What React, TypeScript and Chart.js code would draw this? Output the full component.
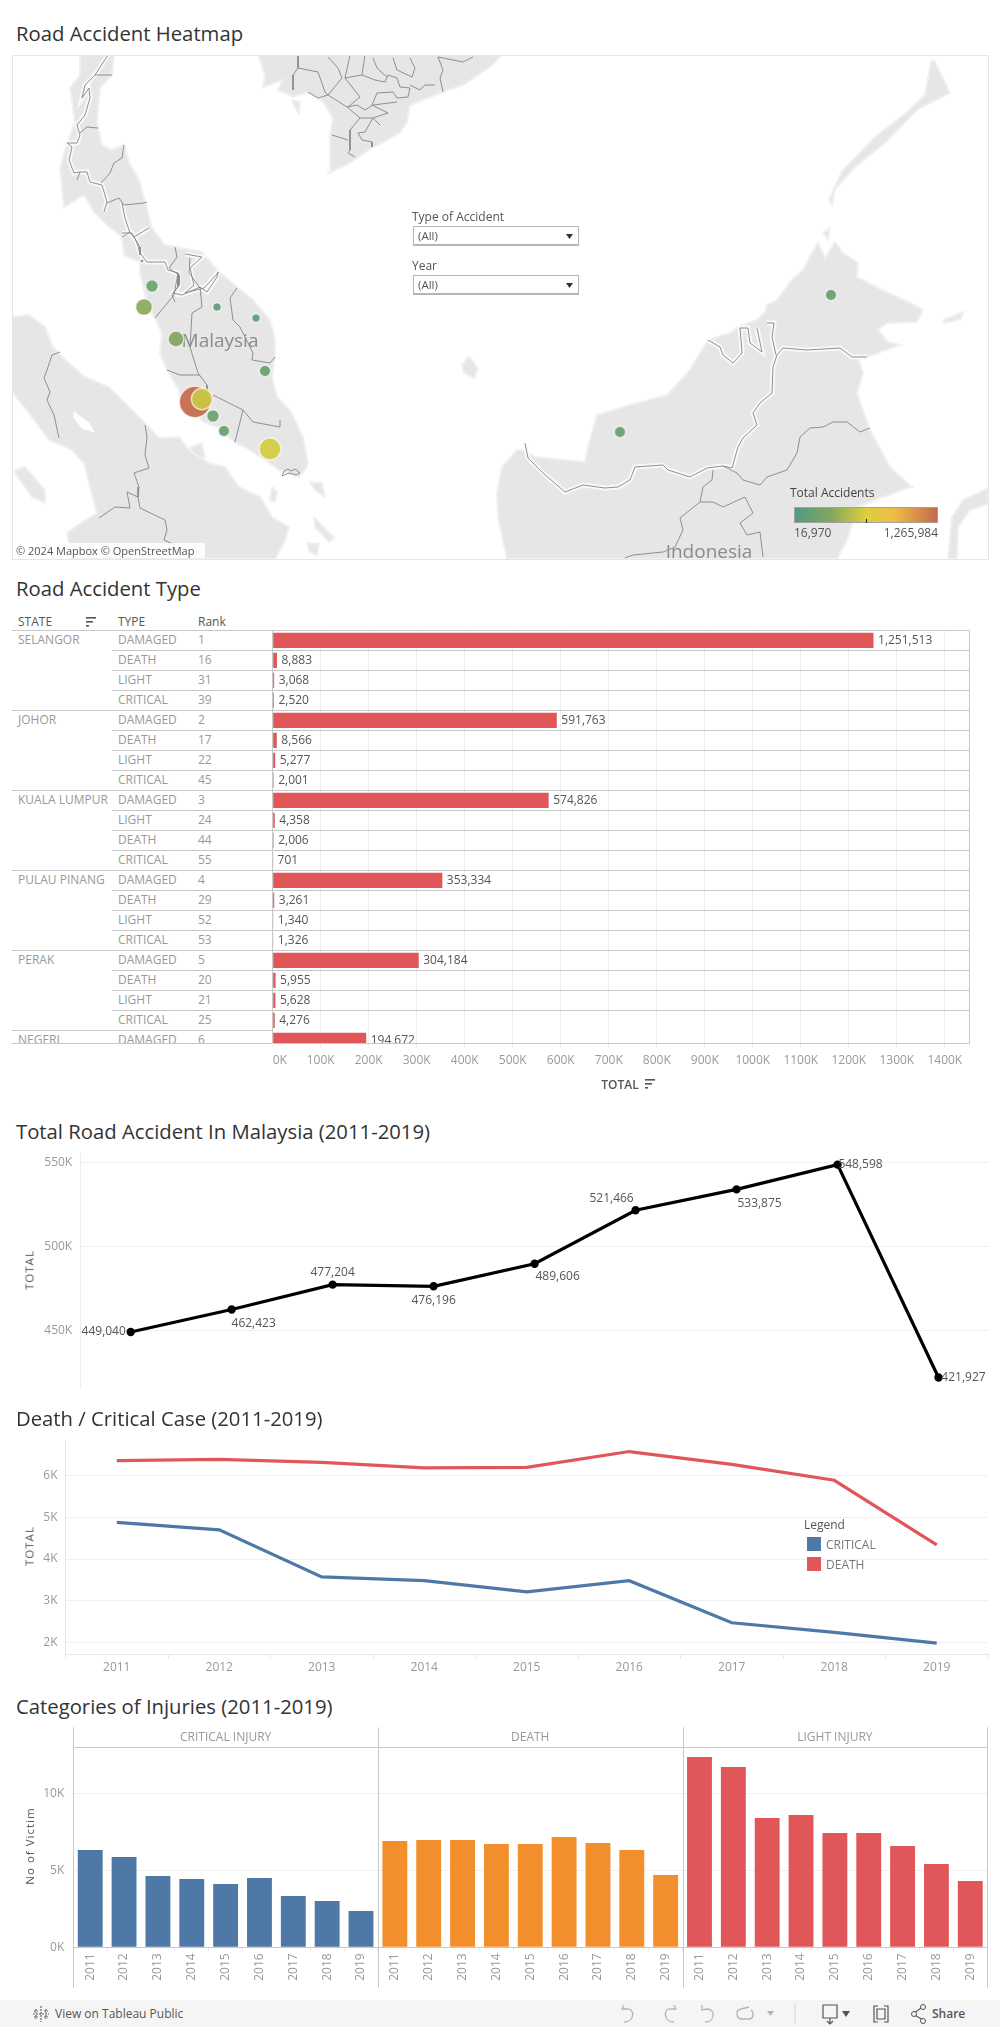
import React, { useEffect, useRef } from "react";
import { Chart, registerables } from "chart.js";

Chart.register(...registerables);

const FONT = '"Open Sans", sans-serif';
const GRID = "#f0f0f0";
const RULE = "#c8c8c8";
const RED = "#E15759";
const BLUE = "#4E79A7";
const ORANGE = "#F28E2B";

// ---------- table of accident types ----------
const rowStates = ["SELANGOR", "", "", "", "JOHOR", "", "", "", "KUALA LUMPUR", "", "", "", "PULAU PINANG", "", "", "", "PERAK", "", "", "", "NEGERI"];
const rowTypes = ["DAMAGED", "DEATH", "LIGHT", "CRITICAL", "DAMAGED", "DEATH", "LIGHT", "CRITICAL", "DAMAGED", "LIGHT", "DEATH", "CRITICAL", "DAMAGED", "DEATH", "LIGHT", "CRITICAL", "DAMAGED", "DEATH", "LIGHT", "CRITICAL", "DAMAGED"];
const rowRanks = [1, 16, 31, 39, 2, 17, 22, 45, 3, 24, 44, 55, 4, 29, 52, 53, 5, 20, 21, 25, 6];
const rowTotals = [1251513, 8883, 3068, 2520, 591763, 8566, 5277, 2001, 574826, 4358, 2006, 701, 353334, 3261, 1340, 1326, 304184, 5955, 5628, 4276, 194672];
const rowAxisTicks = [0, 100000, 200000, 300000, 400000, 500000, 600000, 700000, 800000, 900000, 1000000, 1100000, 1200000, 1300000, 1400000];

// ---------- yearly series ----------
const years = ["2011", "2012", "2013", "2014", "2015", "2016", "2017", "2018", "2019"];
const yearTotals = [449040, 462423, 477204, 476196, 489606, 521466, 533875, 548598, 421927];
const yearTotalTicks = [450000, 500000, 550000];
const deathCases = [6360, 6390, 6320, 6190, 6200, 6580, 6270, 5890, 4340];
const criticalCases = [4880, 4700, 3570, 3480, 3210, 3480, 2470, 2240, 1980];
const caseTicks = [2000, 3000, 4000, 5000, 6000];

// ---------- categories of injuries ----------
const panelNames = ["CRITICAL INJURY", "DEATH", "LIGHT INJURY"];
const victimsCritical = [6330, 5880, 4640, 4450, 4120, 4510, 3340, 3020, 2360];
const victimsDeath = [6920, 6980, 6980, 6720, 6720, 7180, 6790, 6330, 4710];
const victimsLight = [12390, 11730, 8420, 8610, 7440, 7440, 6590, 5420, 4320];
const victimTicks = [0, 5000, 10000];

// ---------- heat map: totals per state, on a projected map grid (east, north) ----------
const mapStates = ["Perlis", "Kedah", "Pulau Pinang", "Kelantan", "Terengganu", "Perak", "Pahang", "Selangor", "Kuala Lumpur", "Negeri Sembilan", "Melaka", "Johor", "Sarawak", "Sabah"];
const mapTotals = [16970, 203000, 359261, 95000, 95000, 320043, 167000, 1265984, 581891, 203000, 167000, 607607, 167000, 167000];
const mapEast = [130, 140, 132, 205, 244, 164, 253, 183, 190, 201, 212, 258, 608, 819];
const mapNorth = [298, 273, 252, 252, 241, 220, 188, 157, 160, 143, 128, 110, 127, 264];
const placeNames = ["Malaysia", "Indonesia"];
const placeEast = [208, 697];
const placeNorth = [217, 6];

type P = number[][];
const landMainland: P = [[68,504],[102,504],[100,484],[88,471],[85,437],[90,414],[100,409],[112,414],[117,397],[128,377],[133,357],[140,331],[153,314],[190,307],[207,287],[225,272],[241,259],[258,239],[263,219],[263,202],[260,182],[265,162],[278,149],[291,122],[296,96],[295,92],[287,82],[267,89],[253,99],[233,112],[222,117],[207,131],[192,137],[180,146],[168,156],[167,169],[155,189],[148,206],[150,226],[143,241],[136,252],[128,287],[128,297],[112,304],[110,322],[95,334],[82,347],[72,364],[52,352],[48,391],[55,416],[63,437],[58,471],[68,484]];
const landIndochina: P = [[246,504],[253,484],[251,472],[271,479],[266,469],[281,462],[296,467],[311,457],[321,441],[318,424],[318,387],[315,385],[338,396],[360,411],[388,426],[395,437],[398,454],[411,459],[431,467],[451,474],[478,492],[490,504]];
const landPhuQuoc: P = [[280,459],[288,457],[287,446],[283,451]];
const landSumatra: P = [[0,242],[17,244],[33,232],[40,214],[50,202],[73,182],[97,172],[120,149],[133,136],[147,121],[167,122],[177,109],[197,96],[213,92],[227,72],[248,62],[260,42],[277,32],[272,16],[263,0],[60,0],[55,26],[63,32],[85,46],[78,72],[72,96],[60,109],[37,119],[17,146],[0,167]];
const landSiberut: P = [[3,89],[13,92],[33,69],[33,56],[20,62],[3,86]];
const landBintan: P = [[178,112],[190,116],[193,102],[182,99]];
const landRiau1: P = [[298,77],[310,76],[313,62],[303,69]];
const landRiau2: P = [[260,72],[265,67],[263,57],[258,59]];
const landRiau3: P = [[302,42],[322,21],[317,17],[303,32]];
const landRiau4: P = [[295,16],[307,15],[305,4],[297,8]];
const landBorneo: P = [[495,0],[486,42],[485,66],[490,92],[505,109],[513,109],[523,102],[573,97],[576,112],[585,144],[618,154],[655,164],[678,189],[696,219],[718,226],[728,233],[745,239],[753,247],[755,254],[765,259],[780,279],[791,289],[806,317],[813,301],[823,317],[831,306],[846,296],[845,282],[866,271],[898,256],[911,249],[905,237],[875,236],[866,229],[876,217],[888,214],[855,202],[845,204],[851,186],[845,166],[858,129],[878,92],[900,72],[898,72],[845,52],[835,19],[825,0]];
const landSulawesi: P = [[936,0],[940,42],[951,59],[976,71],[976,55],[958,49],[946,32],[945,0]];
const landPalawan: P = [[922,499],[938,466],[906,450],[874,417],[843,392],[823,370],[820,354],[817,359],[830,388],[862,421],[894,446],[913,464],[919,497]];
const landBalabac: P = [[811,326],[818,331],[816,320]];
const landSulu: P = [[931,239],[951,247],[949,240],[933,236]];
const landNatuna: P = [[457,203],[466,190],[462,181],[452,186],[450,194]];
const landShapes = [landMainland, landIndochina, landPhuQuoc, landSumatra, landSiberut, landBintan, landRiau1, landRiau2, landRiau3, landRiau4, landBorneo, landSulawesi, landPalawan, landBalabac, landSulu, landNatuna];
const lakeToba: P = [[62,147],[77,136],[82,127],[70,131],[62,141]];

const borderBorneo: P = [[513,116],[516,101],[531,86],[553,67],[571,74],[593,71],[606,72],[618,79],[623,92],[651,94],[656,89],[678,82],[695,91],[711,93],[720,91],[726,112],[731,121],[745,134],[741,146],[748,156],[760,166],[761,192],[765,204],[771,211],[795,209],[828,211],[840,202],[855,202]];
const borderBrunei: P = [[696,219],[708,212],[711,204],[721,196],[730,206],[728,231],[736,231],[738,216],[750,207],[745,231]];
const borderSabahTip: P = [[755,236],[762,236],[760,222],[764,204]];
const borderKaltim: P = [[711,93],[725,86],[731,79],[748,74],[755,82],[775,89],[785,106],[788,122],[798,131],[811,132],[821,137],[835,137],[848,127],[858,131]];
const borderKalteng: P = [[701,89],[700,79],[691,72],[688,57],[668,41],[671,29],[663,12],[651,7],[621,4],[613,1]];
const borderKalsel: P = [[688,57],[701,57],[711,52],[733,62],[741,46],[728,36],[735,24],[748,27],[751,2]];
const borderAceh: P = [[48,207],[40,204],[35,189],[32,181],[38,167],[35,159],[42,144],[47,121]];
const borderRiau: P = [[133,134],[135,122],[133,104],[137,91],[122,86],[127,72],[126,62],[115,67],[118,51],[103,52],[87,41]];
const borderJambi: P = [[126,62],[128,51],[153,39],[155,29],[152,19],[163,14]];
const borderThaiMalay: P = [[110,326],[120,326],[125,316],[128,306],[135,297],[153,297],[156,289],[166,286],[166,272],[161,266],[170,264],[188,272],[195,267],[205,282],[206,287]];
const borderKedah: P = [[143,241],[162,264],[166,286]];
const borderPerak: P = [[188,272],[190,252],[180,246],[178,212],[186,186],[195,174],[195,166]];
const borderSelangor: P = [[155,189],[168,184],[188,184]];
const borderPahang: P = [[225,271],[218,261],[221,239],[228,232],[241,206],[240,199],[258,196],[263,202]];
const borderKelantan: P = [[178,301],[177,286],[188,271]];
const borderJohor: P = [[201,164],[231,149],[241,137],[268,132],[268,139]];
const borderMelaka: P = [[231,149],[226,129],[223,117]];
const borderMyanmar: P = [[96,504],[83,484],[73,474],[70,461],[77,471],[78,461],[73,444],[65,434],[68,424],[65,416],[55,416],[60,412],[57,399],[62,386],[68,387],[75,387],[78,377],[90,374],[95,357],[92,347]];
const borderT2: P = [[83,484],[100,484]];
const borderT3: P = [[68,426],[75,432],[86,431]];
const borderT4: P = [[112,414],[110,401],[102,396],[98,386],[89,376]];
const borderT5: P = [[68,387],[65,379]];
const borderT6: P = [[95,356],[107,361],[112,354],[132,356],[135,357]];
const borderT7: P = [[110,356],[113,341],[118,326],[122,322],[137,331]];
const borderT8: P = [[110,322],[118,327]];
const borderT9: P = [[122,322],[128,312],[128,304]];
const borderT10: P = [[163,312],[165,302],[157,291],[167,284],[167,274],[160,264],[163,257]];
const borderT11: P = [[173,305],[190,302],[178,291],[182,274],[173,266],[192,271],[207,287]];
const borderV1: P = [[286,504],[286,491],[281,484],[281,469]];
const borderV2: P = [[286,491],[306,487],[313,467],[316,464],[330,481],[326,491],[316,502]];
const borderV3: P = [[296,467],[306,461],[316,464],[335,452],[348,441],[361,441],[368,434]];
const borderV4: P = [[338,504],[333,481],[350,484],[353,504]];
const borderV5: P = [[333,481],[348,462],[336,452]];
const borderV6: P = [[350,484],[363,479],[373,477],[376,484],[385,481],[388,472],[398,471],[396,462],[385,461],[381,467],[365,466],[360,454],[376,446],[361,441]];
const borderV7: P = [[348,441],[338,429],[338,409],[336,406],[343,402]];
const borderV8: P = [[320,424],[336,419]];
const borderV9: P = [[361,441],[353,427],[346,426],[350,419],[360,417],[360,412]];
const borderV10: P = [[335,452],[345,454],[353,449],[361,454],[385,457]];
const borderV11: P = [[361,501],[365,491],[375,482]];
const borderV12: P = [[381,501],[385,489],[400,482],[403,491],[398,501]];
const borderV13: P = [[426,502],[431,489],[428,481],[431,467]];
const borderV14: P = [[398,474],[408,469],[413,474],[423,474]];
const borderV15: P = [[426,502],[451,497],[461,502]];
const borderSingapore: P = [[270,83],[272,88],[276,90],[279,88],[283,90],[288,86],[284,84],[277,86],[270,83]];
const haloBorders = [borderBorneo, borderBrunei, borderSabahTip, borderThaiMalay, borderMyanmar, borderT7, borderT11];
const plainBorders = [borderKaltim, borderKalteng, borderKalsel, borderAceh, borderRiau, borderJambi, borderKedah, borderPerak, borderSelangor, borderPahang, borderKelantan, borderJohor, borderMelaka, borderT2, borderT3, borderT4, borderT5, borderT6, borderT8, borderT9, borderT10, borderV1, borderV2, borderV3, borderV4, borderV5, borderV6, borderV7, borderV8, borderV9, borderV10, borderV11, borderV12, borderV13, borderV14, borderV15, borderSingapore];

const colourStops: [number, number[]][] = [
  [0, [79, 154, 132]],
  [0.25, [130, 166, 93]],
  [0.5, [220, 207, 63]],
  [0.7, [239, 188, 71]],
  [1, [196, 105, 75]],
];
function heatColour(v: number) {
  const lo = Math.min(...mapTotals);
  const hi = Math.max(...mapTotals);
  const t = (v - lo) / (hi - lo);
  for (let i = 1; i < colourStops.length; i++) {
    const [t1, c1] = colourStops[i];
    const [t0, c0] = colourStops[i - 1];
    if (t <= t1) {
      const f = (t - t0) / (t1 - t0);
      const c = c0.map((a, k) => Math.round(a + (c1[k] - a) * f));
      return `rgba(${c[0]},${c[1]},${c[2]},0.93)`;
    }
  }
  return "rgb(196,105,75)";
}
const toXY = (s: P) => s.map(([x, y]) => ({ x, y }));
const fmt = (v: number) => v.toLocaleString("en-US");
const fitX = (h: number) => ({ afterFit: (s: any) => { s.height = h; } });
const fitY = (w: number) => ({ afterFit: (s: any) => { s.width = w; } });
const fixTicks = (values: number[]) => ({ afterBuildTicks: (s: any) => { s.ticks = values.map((value) => ({ value })); } });

function makeMap(canvas: HTMLCanvasElement) {
  const maxTotal = Math.max(...mapTotals);
  const mapDatasets: any[] = [
    {
      type: "bubble",
      label: "states",
      order: 0,
      data: mapTotals.map((v, i) => ({ x: mapEast[i], y: mapNorth[i], r: 15.7 * Math.sqrt(v / maxTotal) })),
      backgroundColor: mapTotals.map(heatColour),
      borderColor: "rgba(255,255,255,0.65)",
      borderWidth: 1.5,
    },
    ...[...plainBorders, ...haloBorders].map((s) => ({
      type: "scatter", order: 1, data: toXY(s), showLine: true, pointRadius: 0, tension: 0, borderColor: "#858585", borderWidth: 0.9, fill: false,
    })),
    ...haloBorders.map((s) => ({
      type: "scatter", order: 2, data: toXY(s), showLine: true, pointRadius: 0, tension: 0, borderColor: "rgba(250,250,250,0.85)", borderWidth: 5, fill: false,
    })),
    { type: "scatter", order: 3, data: toXY([...lakeToba, lakeToba[0]]), showLine: true, pointRadius: 0, tension: 0, borderColor: "#fff", borderWidth: 1, backgroundColor: "#fff", fill: "shape" },
    ...landShapes.map((s) => ({
      type: "scatter", order: 4, data: toXY([...s, s[0]]), showLine: true, pointRadius: 0, tension: 0, borderColor: "#f0f0f0", borderWidth: 2, backgroundColor: "#e6e6e6", fill: "shape",
    })),
  ];
  return new Chart(canvas, {
    type: "bubble",
    data: { datasets: mapDatasets },
    options: {
      animation: false, responsive: false, maintainAspectRatio: false,
      layout: { padding: 0, autoPadding: false },
      plugins: { legend: { display: false }, tooltip: { enabled: false } },
      scales: {
        x: { type: "linear", display: false, min: 0, max: 976 },
        y: { type: "linear", display: false, min: 0, max: 504 },
      },
    },
    plugins: [{
      id: "placeNames",
      beforeDatasetDraw(chart: any, args: any) {
        if (chart.data.datasets[args.index].label !== "states") return;
        const { ctx, scales } = chart;
        ctx.save();
        ctx.font = `19px ${FONT}`;
        ctx.fillStyle = "#8c8c8c";
        ctx.textAlign = "center";
        ctx.textBaseline = "middle";
        placeNames.forEach((n, i) => ctx.fillText(n, scales.x.getPixelForValue(placeEast[i]), scales.y.getPixelForValue(placeNorth[i])));
        ctx.restore();
      },
    }],
  } as any);
}

function makeRowBars(canvas: HTMLCanvasElement) {
  const maxX = 1451000;
  return new Chart(canvas, {
    type: "bar",
    data: {
      datasets: [{
        data: rowTotals.map((v, i) => ({ x: v, y: i + 0.5 })),
        backgroundColor: RED,
        barPercentage: 0.76,
        categoryPercentage: 1,
      }],
    },
    options: {
      animation: false, responsive: false, maintainAspectRatio: false,
      indexAxis: "y",
      layout: { padding: { left: 0, right: 20.7, top: 12.3, bottom: 0 }, autoPadding: false },
      plugins: { legend: { display: false }, tooltip: { enabled: false } },
      scales: {
        x: {
          ...fitX(45), ...fixTicks([...rowAxisTicks, maxX]), type: "linear", position: "bottom", min: 0, max: maxX,
          border: { display: false },
          grid: {
            color: (c: any) => (c.tick && (c.tick.value === 0 || c.tick.value === maxX) ? RULE : GRID),
            tickLength: 5, tickColor: GRID, drawTicks: true,
          },
          ticks: {
            align: "inner", maxRotation: 0, autoSkip: false, padding: 5,
            color: "#999", font: { family: FONT, size: 12 },
            callback: (v: any) => (v === maxX ? "" : `${v / 1000}K`),
          },
        },
        y: {
          ...fitY(40.7), type: "linear", reverse: true, offset: false, min: 0, max: 20.635,
          border: { display: false },
          grid: { color: RULE, drawTicks: false, offset: false },
          ticks: { display: false, stepSize: 1 },
        },
      },
    },
    plugins: [{
      id: "rowLabels",
      afterDatasetsDraw(chart: any) {
        const { ctx, scales, chartArea: a } = chart;
        ctx.save();
        ctx.beginPath();
        ctx.rect(a.left, a.top, a.right - a.left, a.bottom - a.top);
        ctx.clip();
        ctx.font = `12px ${FONT}`;
        ctx.fillStyle = "#555";
        ctx.textBaseline = "middle";
        rowTotals.forEach((v, i) => ctx.fillText(fmt(v), scales.x.getPixelForValue(v) + 4.5, scales.y.getPixelForValue(i + 0.5) + 0.5));
        ctx.restore();
      },
    }],
  } as any);
}

const totalLabelDx = [-27, 22, 0, 0, 23, -24, 23, 23, 25];
const totalLabelDy = [0, 14, -12, 14, 13, -12, 14, 0, 0];

function makeTotalLine(canvas: HTMLCanvasElement) {
  return new Chart(canvas, {
    type: "line",
    data: {
      labels: years,
      datasets: [{ data: yearTotals, borderColor: "#000", backgroundColor: "#000", borderWidth: 3.2, pointRadius: 2.6, tension: 0, clip: false }],
    },
    options: {
      animation: false, responsive: false, maintainAspectRatio: false,
      layout: { padding: { left: 0, right: 11, top: 27.7, bottom: 0 }, autoPadding: false },
      plugins: { legend: { display: false }, tooltip: { enabled: false } },
      scales: {
        x: { ...fitX(32), type: "category", offset: true, grid: { display: false }, border: { display: false }, ticks: { display: false } },
        y: {
          ...fitY(80.2), ...fixTicks(yearTotalTicks), min: 415700, max: 555700,
          border: { color: "#ececec" },
          grid: { color: GRID, drawTicks: false },
          ticks: { padding: 8, color: "#999", font: { family: FONT, size: 12 }, callback: (v: any) => `${v / 1000}K` },
        },
      },
    },
    plugins: [{
      id: "totalLabels",
      afterDatasetsDraw(chart: any) {
        const { ctx, scales } = chart;
        ctx.save();
        ctx.font = `12px ${FONT}`;
        ctx.fillStyle = "#555";
        ctx.textAlign = "center";
        ctx.textBaseline = "middle";
        yearTotals.forEach((v, i) => ctx.fillText(fmt(v), scales.x.getPixelForValue(i) + totalLabelDx[i], scales.y.getPixelForValue(v) + totalLabelDy[i]));
        ctx.restore();
      },
    }],
  } as any);
}

function makeCaseLine(canvas: HTMLCanvasElement) {
  return new Chart(canvas, {
    type: "line",
    data: {
      labels: years,
      datasets: [
        { label: "DEATH", data: deathCases, borderColor: RED, borderWidth: 3.2, pointRadius: 0, tension: 0 },
        { label: "CRITICAL", data: criticalCases, borderColor: BLUE, borderWidth: 3.2, pointRadius: 0, tension: 0 },
      ],
    },
    options: {
      animation: false, responsive: false, maintainAspectRatio: false,
      layout: { padding: { left: 0, right: 12, top: 30, bottom: 0 }, autoPadding: false },
      plugins: { legend: { display: false }, tooltip: { enabled: false } },
      scales: {
        x: {
          ...fitX(35.7), type: "category", offset: true,
          border: { color: "#e6e6e6" },
          grid: { offset: true, drawOnChartArea: false, drawTicks: true, tickLength: 4, tickColor: "#e6e6e6" },
          ticks: { padding: 2, color: "#999", maxRotation: 0, font: { family: FONT, size: 12 } },
        },
        y: {
          ...fitY(65.5), ...fixTicks(caseTicks), min: 1712, max: 6857,
          border: { color: "#e6e6e6" },
          grid: { color: GRID, drawTicks: false },
          ticks: { padding: 8, color: "#999", font: { family: FONT, size: 12 }, callback: (v: any) => `${v / 1000}K` },
        },
      },
    },
  } as any);
}

function makeInjuryBars(canvas: HTMLCanvasElement) {
  const series = [victimsCritical, victimsDeath, victimsLight];
  const panelColours = [BLUE, ORANGE, RED];
  const labels = series.flatMap(() => years);
  const values = series.flat();
  const colours = series.flatMap((s, k) => s.map(() => panelColours[k]));
  const step = years.length;
  return new Chart(canvas, {
    type: "bar",
    data: { labels, datasets: [{ data: values, backgroundColor: colours, barPercentage: 0.735, categoryPercentage: 1 }] },
    options: {
      animation: false, responsive: false, maintainAspectRatio: false,
      layout: { padding: { left: 0, right: 12.8, top: 27.3, bottom: 0 }, autoPadding: false },
      plugins: { legend: { display: false }, tooltip: { enabled: false } },
      scales: {
        x: {
          ...fitX(52.7), type: "category", offset: true,
          border: { color: RULE },
          grid: { offset: true, drawOnChartArea: false, drawTicks: true, tickLength: 4, tickColor: "#ececec" },
          ticks: { padding: 2, autoSkip: false, minRotation: 90, maxRotation: 90, color: "#999", font: { family: FONT, size: 12 } },
        },
        y: {
          ...fitY(73.3), ...fixTicks(victimTicks), min: 0, max: 13020,
          border: { display: false },
          grid: { color: GRID, drawTicks: false },
          ticks: { padding: 9, color: "#999", font: { family: FONT, size: 12 }, callback: (v: any) => `${v / 1000}K` },
        },
      },
    },
    plugins: [{
      id: "panels",
      afterDraw(chart: any) {
        const { ctx, scales, chartArea: a } = chart;
        const top = a.top - 20;
        const bottom = a.bottom + 40.5;
        ctx.save();
        ctx.strokeStyle = RULE;
        ctx.lineWidth = 1;
        ctx.beginPath();
        for (let k = 0; k <= panelNames.length; k++) {
          const x = Math.round(a.left + (a.right - a.left) * (k / panelNames.length)) + 0.5;
          ctx.moveTo(x, top);
          ctx.lineTo(x, bottom);
        }
        ctx.moveTo(a.left, Math.round(a.top) + 0.5);
        ctx.lineTo(a.right, Math.round(a.top) + 0.5);
        ctx.stroke();
        ctx.font = `12px ${FONT}`;
        ctx.fillStyle = "#999";
        ctx.textAlign = "center";
        ctx.textBaseline = "middle";
        panelNames.forEach((n, k) => {
          const first = scales.x.getPixelForValue(k * step);
          const last = scales.x.getPixelForValue(k * step + step - 1);
          ctx.fillText(n, (first + last) / 2, a.top - 10);
        });
        ctx.restore();
      },
    }],
  } as any);
}

// ---------- plain page elements ----------
function Txt({ x, y, size = 12, color = "#555", w = 400, align = "left", children }: any) {
  const tx = align === "center" ? "-50%" : align === "right" ? "-100%" : "0";
  return (
    <div style={{ position: "absolute", left: x, top: y, transform: `translate(${tx},-50%)`, font: `${w} ${size}px ${FONT}`, color, whiteSpace: "nowrap", lineHeight: 1 }}>
      {children}
    </div>
  );
}
const Title = ({ y, children }: any) => <Txt x={16} y={y} size={20.3} color="#333">{children}</Txt>;
function VText({ x, y, children }: any) {
  return (
    <div style={{ position: "absolute", left: x, top: y, transform: "translate(-50%,-50%) rotate(-90deg)", font: `500 11.5px ${FONT}`, color: "#555", whiteSpace: "nowrap", letterSpacing: 1 }}>
      {children}
    </div>
  );
}
function Box({ x, y, w, h, bg, extra }: any) {
  return <div style={{ position: "absolute", left: x, top: y, width: w, height: h, background: bg, boxSizing: "border-box", ...extra }} />;
}
function SortIcon({ x, y }: any) {
  return (
    <svg style={{ position: "absolute", left: x, top: y }} width="11" height="10">
      <rect x="0" y="0" width="10" height="1.6" fill="#555" />
      <rect x="0" y="4" width="7" height="1.6" fill="#555" />
      <rect x="0" y="8" width="3" height="1.6" fill="#555" />
    </svg>
  );
}
function Select({ y }: any) {
  return (
    <div style={{ position: "absolute", left: 413, top: y, width: 166, height: 20, border: "1px solid #b5b5b5", borderBottomWidth: 2, boxSizing: "border-box", background: "#fff" }}>
      <Txt x={4} y={9} size={11.5} color="#555">(All)</Txt>
      <svg style={{ position: "absolute", left: 152, top: 6 }} width="8" height="7"><path d="M0 1 L7 1 L3.5 6 Z" fill="#333" /></svg>
    </div>
  );
}
const iconStroke = { fill: "none", stroke: "#b5b5b5", strokeWidth: 1.3 };
function Toolbar() {
  return (
    <div style={{ position: "absolute", left: 0, top: 2000, width: 1000, height: 27, background: "#f5f5f5" }}>
      <svg style={{ position: "absolute", left: 32, top: 5 }} width="18" height="18">
        <path d="M9 1V17M1 9H17M4 4V8M2 6H6M14 4V8M12 6H16M4 10V14M2 12H6M14 10V14M12 12H16" stroke="#555" strokeWidth="1.1" fill="none" strokeDasharray="2 1" />
      </svg>
      <Txt x={55} y={13.5} size={12} color="#555">View on Tableau Public</Txt>
      <svg style={{ position: "absolute", left: 615, top: 0 }} width="240" height="27">
        <path d="M9 5 L7 9 L12 9 C20 8 20 22 9 22" {...iconStroke} />
        <path d="M59 5 L61 9 L56 9 C48 8 48 22 59 22" {...iconStroke} />
        <path d="M87 5 L87 10 L92 9 C101 9 100 22 90 22" {...iconStroke} />
        <path d="M134 7 L126 9 C120 10 121 19 127 19 L135 19 C139 18 139 12 136 10" {...iconStroke} />
        <path d="M152 11 L159 11 L155.5 16 Z" fill="#b5b5b5" />
        <path d="M180 3 L180 24" stroke="#d5d5d5" fill="none" />
      </svg>
      <svg style={{ position: "absolute", left: 820, top: 2 }} width="150" height="23">
        <path d="M3 3 H17 V16 H3 Z M10 16 V21 M7 19 L10 22 L13 19" fill="none" stroke="#555" strokeWidth="1.2" />
        <path d="M22 9 L30 9 L26 15 Z" fill="#555" />
        <path d="M58 4 H54 V20 H58 M64 4 H68 V20 H64 M57 7 H65 V17 H57 Z" fill="none" stroke="#555" strokeWidth="1.2" />
        <path d="M101 6 L93 12 L103 18" fill="none" stroke="#555" strokeWidth="1.1" />
        <circle cx="103" cy="5" r="2.5" fill="#f5f5f5" stroke="#555" />
        <circle cx="94" cy="12" r="2.5" fill="#f5f5f5" stroke="#555" />
        <circle cx="103" cy="19" r="2.5" fill="#f5f5f5" stroke="#555" />
      </svg>
      <Txt x={932} y={13.5} size={12} w={600} color="#555">Share</Txt>
    </div>
  );
}

export default function App() {
  const mapRef = useRef<HTMLCanvasElement>(null);
  const rowRef = useRef<HTMLCanvasElement>(null);
  const totalRef = useRef<HTMLCanvasElement>(null);
  const caseRef = useRef<HTMLCanvasElement>(null);
  const injuryRef = useRef<HTMLCanvasElement>(null);

  useEffect(() => {
    const charts = [
      makeMap(mapRef.current!),
      makeRowBars(rowRef.current!),
      makeTotalLine(totalRef.current!),
      makeCaseLine(caseRef.current!),
      makeInjuryBars(injuryRef.current!),
    ];
    return () => charts.forEach((c) => c.destroy());
  }, []);

  const rowH = 20;
  const top0 = 630.3;
  return (
    <div style={{ position: "absolute", left: 0, top: 0, width: 1000, height: 2027, overflow: "hidden", background: "#fff" }}>
      <Title y={33}>Road Accident Heatmap</Title>
      <canvas ref={mapRef} width={976} height={504} style={{ position: "absolute", left: 12, top: 55 }} />
      <Box x={12} y={55} w={977} h={505} extra={{ border: "1px solid #e6e6e6" }} />
      <Txt x={412} y={217} size={12}>Type of Accident</Txt>
      <Select y={226} />
      <Txt x={412} y={266} size={12}>Year</Txt>
      <Select y={275} />
      <Txt x={790} y={492.5} size={12} color="#444">Total Accidents</Txt>
      <Box x={794} y={507} w={144} h={16} bg="linear-gradient(90deg,#4f9a84 0%,#82a65d 25%,#dccf3f 50%,#efbc47 70%,#c4694b 100%)" extra={{ border: "1px solid #a5a19a" }} />
      <Box x={866} y={519} w={1} h={4} bg="#222" />
      <Txt x={794} y={532.5} size={12}>16,970</Txt>
      <Txt x={938} y={532.5} size={12} align="right">1,265,984</Txt>
      <Box x={14} y={543} w={191} h={15} bg="rgba(255,255,255,0.85)" />
      <Txt x={16} y={550} size={11} color="#555">© 2024 Mapbox  © OpenStreetMap</Txt>

      <Title y={588}>Road Accident Type</Title>
      <Txt x={18} y={621.5} size={12} w={500}>STATE</Txt>
      <SortIcon x={86} y={617} />
      <Txt x={118} y={621.5} size={12} w={500}>TYPE</Txt>
      <Txt x={198} y={621.5} size={12}>Rank</Txt>
      <div style={{ position: "absolute", left: 12, top: 630, width: 260, height: 413, overflow: "hidden" }}>
        {rowTypes.map((t, i) => {
          const y = top0 - 630 + i * rowH;
          const groupStart = rowStates[i] !== "";
          return (
            <React.Fragment key={i}>
              <Box x={groupStart ? 0 : 100} y={Math.round(y)} w={groupStart ? 260 : 160} h={1} bg={RULE} />
              <Txt x={6} y={y + 10} size={12} color="#999">{rowStates[i]}</Txt>
              <Txt x={106} y={y + 10} size={12} color="#999">{t}</Txt>
              <Txt x={186} y={y + 10} size={12} color="#999">{rowRanks[i]}</Txt>
            </React.Fragment>
          );
        })}
      </div>
      <Box x={12} y={1043} w={260} h={1} bg={RULE} />
      <canvas ref={rowRef} width={758} height={470} style={{ position: "absolute", left: 232, top: 618 }} />
      <Txt x={620} y={1084.5} size={12} w={600} align="center">TOTAL</Txt>
      <SortIcon x={645} y={1079} />

      <Title y={1131}>Total Road Accident In Malaysia (2011-2019)</Title>
      <canvas ref={totalRef} width={1000} height={295} style={{ position: "absolute", left: 0, top: 1125 }} />
      <VText x={29} y={1270}>TOTAL</VText>

      <Title y={1418}>Death / Critical Case (2011-2019)</Title>
      <canvas ref={caseRef} width={1000} height={280} style={{ position: "absolute", left: 0, top: 1410 }} />
      <VText x={29} y={1546}>TOTAL</VText>
      <Txt x={804} y={1525} size={12}>Legend</Txt>
      <Box x={807} y={1537} w={14} h={14} bg={BLUE} />
      <Txt x={826} y={1544.5} size={12} color="#777">CRITICAL</Txt>
      <Box x={807} y={1557} w={14} h={14} bg={RED} />
      <Txt x={826} y={1565} size={12} color="#777">DEATH</Txt>

      <Title y={1706}>Categories of Injuries (2011-2019)</Title>
      <canvas ref={injuryRef} width={1000} height={280} style={{ position: "absolute", left: 0, top: 1720 }} />
      <VText x={29} y={1846}>No of Victim</VText>

      <Toolbar />
    </div>
  );
}
